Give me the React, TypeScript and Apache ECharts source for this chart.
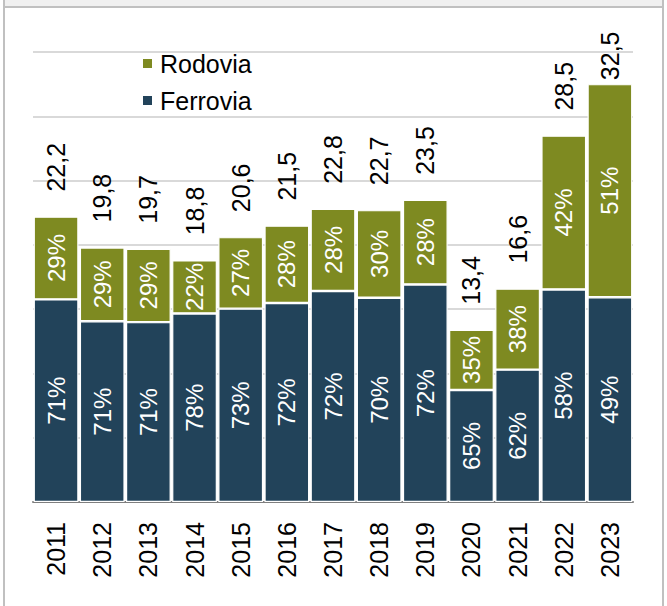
import React, { useEffect, useRef } from "react";
import * as echarts from "echarts";

const years = ["2011", "2012", "2013", "2014", "2015", "2016", "2017", "2018", "2019", "2020", "2021", "2022", "2023"];
const totals = [22.2, 19.8, 19.7, 18.8, 20.6, 21.5, 22.8, 22.7, 23.5, 13.4, 16.6, 28.5, 32.5];
const ferroviaPct = [71, 71, 71, 78, 73, 72, 72, 70, 72, 65, 62, 58, 49];
const rodoviaPct = [29, 29, 29, 22, 27, 28, 28, 30, 28, 35, 38, 42, 51];

const GREEN = "#7E8A21";
const NAVY = "#22435A";
const FONT = "'Liberation Sans', Arial, sans-serif";
const FS = 25;
const FS_PCT = 24;

const fmt = (v: number) => v.toFixed(1).replace(".", ",");

export default function App() {
  const ref = useRef<HTMLDivElement>(null);
  useEffect(() => {
    if (!ref.current) return;
    const chart = echarts.init(ref.current, undefined, { renderer: "svg" });
    const ferrovia = totals.map((t, i) => ({ value: (t * ferroviaPct[i]) / 100 }));
    const rodovia = totals.map((t, i) => ({ value: (t * rodoviaPct[i]) / 100 }));
    const totalLabels = totals.map((t, i) => ({
      value: 0,
      label: { distance: i === totals.length - 1 ? 4 : 25 },
    }));
    const border = "#c0c0c0";
    chart.setOption({
      animation: false,
      backgroundColor: "#fff",
      textStyle: { fontFamily: FONT },
      graphic: [
        { type: "rect", shape: { x: 5, y: 0, width: 657, height: 6 }, style: { fill: "#f0f0f0" } },
        { type: "rect", shape: { x: 3, y: 6, width: 661, height: 2 }, style: { fill: border } },
        { type: "rect", shape: { x: 3, y: 0, width: 2, height: 606 }, style: { fill: border } },
        { type: "rect", shape: { x: 662, y: 0, width: 2, height: 606 }, style: { fill: border } },
      ],
      legend: {
        orient: "vertical",
        left: 136,
        top: 46,
        itemWidth: 11,
        itemHeight: 11,
        itemGap: 12,
        icon: "rect",
        data: ["Rodovia", "Ferrovia"],
        textStyle: { fontSize: 25, color: "#000", fontFamily: FONT, padding: [0, 0, 0, 2] },
      },
      grid: { left: 33, right: 34, top: 52, bottom: 104, containLabel: false },
      xAxis: {
        type: "category",
        data: years,
        axisLine: { lineStyle: { color: "#7f7f7f", width: 2 } },
        axisTick: { show: false },
        axisLabel: { rotate: 90, fontSize: FS, color: "#000", margin: 20, fontFamily: FONT },
      },
      yAxis: {
        type: "value",
        min: 0,
        max: 35,
        interval: 5,
        axisLabel: { show: false },
        axisLine: { show: false },
        axisTick: { show: false },
        splitLine: { lineStyle: { color: "#d9d9d9", width: 2 } },
      },
      series: [
        {
          name: "Ferrovia",
          type: "bar",
          stack: "t",
          barCategoryGap: "3%",
          data: ferrovia,
          itemStyle: { color: NAVY, borderColor: "#fff", borderWidth: 1.2 },
          label: {
            show: true,
            position: "inside",
            rotate: 90,
            color: "#fff",
            fontSize: FS_PCT,
            fontFamily: FONT,
            formatter: (p: any) => ferroviaPct[p.dataIndex] + "%",
          },
        },
        {
          name: "Rodovia",
          type: "bar",
          stack: "t",
          barCategoryGap: "3%",
          data: rodovia,
          itemStyle: { color: GREEN, borderColor: "#fff", borderWidth: 1.2 },
          label: {
            show: true,
            position: "inside",
            rotate: 90,
            color: "#fff",
            fontSize: FS_PCT,
            fontFamily: FONT,
            formatter: (p: any) => rodoviaPct[p.dataIndex] + "%",
          },
        },
        {
          name: "Total",
          type: "bar",
          stack: "t",
          barCategoryGap: "3%",
          data: totalLabels,
          itemStyle: { color: "transparent" },
          label: {
            show: true,
            position: "top",
            rotate: 90,
            align: "left",
            verticalAlign: "middle",
            color: "#000",
            fontSize: FS,
            fontFamily: FONT,
            formatter: (p: any) => fmt(totals[p.dataIndex]),
          },
        },
      ],
    });
    return () => chart.dispose();
  }, []);
  return (
    <div
      ref={ref}
      style={{ position: "fixed", left: 0, top: 0, width: 667, height: 606 }}
    />
  );
}
